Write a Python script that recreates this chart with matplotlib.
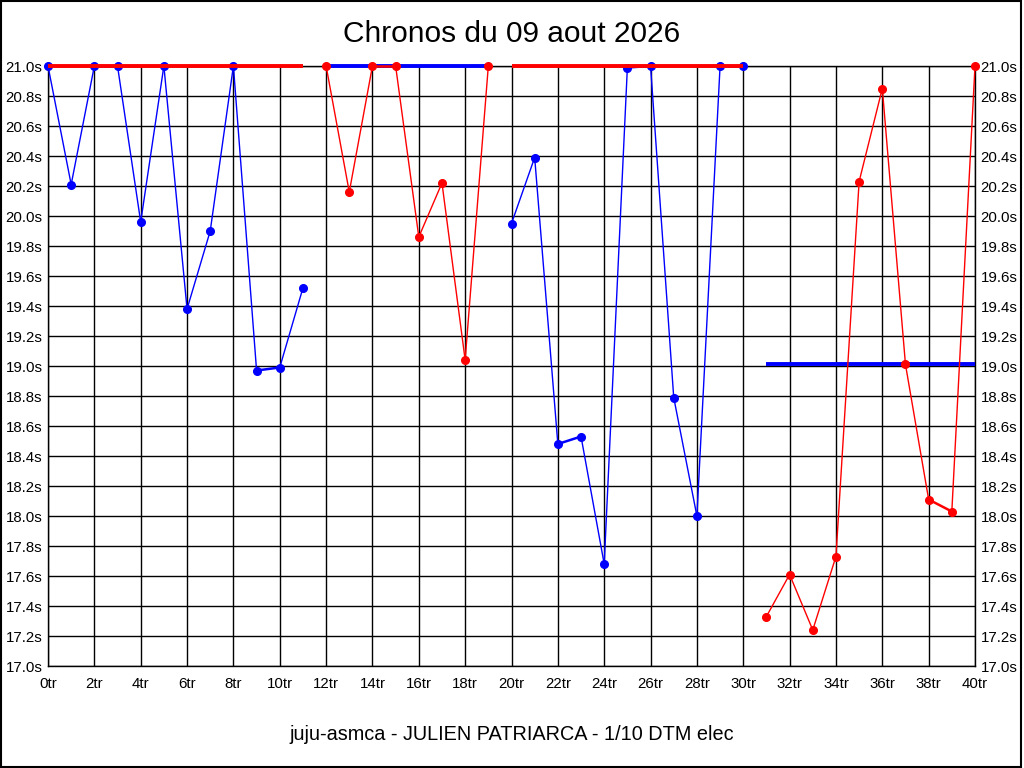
import matplotlib
matplotlib.use("Agg")
import matplotlib.pyplot as plt
import numpy as np

plt.rcParams['font.family'] = ['Liberation Sans', 'DejaVu Sans']

title = "Chronos du 09 aout 2026"
footer = "juju-asmca - JULIEN PATRIARCA - 1/10 DTM elec"

# chronos (s), clipped at 21.0 like the original
blue_laps_a = list(range(0, 12))
blue_a = [21.0, 20.21, 21.0, 21.0, 19.96, 21.0, 19.38, 19.90, 21.0, 18.97, 18.99, 19.52]
red_laps_a = list(range(12, 20))
red_a = [21.0, 20.16, 21.0, 21.0, 19.86, 20.22, 19.04, 21.0]
blue_laps_b = list(range(20, 31))
blue_b = [19.95, 20.39, 18.48, 18.53, 17.68, 20.99, 21.0, 18.79, 18.00, 21.0, 21.0]
red_laps_b = list(range(31, 41))
red_b = [17.33, 17.61, 17.24, 17.73, 20.23, 20.85, 19.01, 18.11, 18.03, 21.0]

# flat segments (other pilot off the scale / reference)
red_flat = [([0, 11], [21.0, 21.0]), ([20, 30], [21.0, 21.0])]
blue_flat = [([12, 19], [21.0, 21.0]), ([31, 40], [19.01, 19.01])]

xticks = list(range(0, 41, 2))
xlabels = [str(t) + "tr" for t in xticks]
yticks = np.round(np.arange(17.0, 21.01, 0.2), 1)
ylabels = ["%.1fs" % v for v in yticks]

fig = plt.figure(figsize=(10.24, 7.68), dpi=100)
ax = fig.add_axes([48/1024, 102/768, 927/1024, 600/768])
ax.set_xlim(0, 40)
ax.set_ylim(17.0, 21.0)


def draw_series(xs, ys, color, z):
    # the original renderer draws flat segments thicker than steep ones
    for i in range(len(xs) - 1):
        p0 = ax.transData.transform((xs[i], ys[i]))
        p1 = ax.transData.transform((xs[i + 1], ys[i + 1]))
        dx, dy = abs(p1[0] - p0[0]), abs(p1[1] - p0[1])
        lw = 1.8 if dy < dx else 1.0
        ax.plot(xs[i:i + 2], ys[i:i + 2], color=color, lw=lw, zorder=z, clip_on=False)
    ax.plot(xs, ys, ls="none", color=color, marker="o", ms=5.5, zorder=z, clip_on=False)


for xs, ys in [(blue_laps_a, blue_a), (blue_laps_b, blue_b)]:
    draw_series(xs, ys, "#0000ff", 3)
for xs, ys in blue_flat:
    ax.plot(xs, ys, color="#0000ff", lw=2.8, solid_capstyle="butt", zorder=3, clip_on=False)
for xs, ys in [(red_laps_a, red_a), (red_laps_b, red_b)]:
    draw_series(xs, ys, "#ff0000", 4)
for xs, ys in red_flat:
    ax.plot(xs, ys, color="#ff0000", lw=2.8, solid_capstyle="butt", zorder=4, clip_on=False)

ax.set_xticks(xticks)
ax.set_xticklabels(xlabels)
ax.set_yticks(yticks)
ax.set_yticklabels(ylabels)
ax.grid(True, color="black", lw=1.0, zorder=1)
ax.tick_params(length=0, labelsize=10.8, pad=4, labelright=True)
ax.tick_params(axis="x", pad=8)
for s in ax.spines.values():
    s.set_linewidth(1.0)
ax.set_axisbelow(True)

fig.text(0.5, 1 - 34/768, title, ha="center", va="center", fontsize=21.5)
fig.text(0.5, 1 - 735/768, footer, ha="center", va="center", fontsize=14.3)
fig.patches.append(plt.Rectangle((0.0005, 0.001), 0.997, 0.998, transform=fig.transFigure,
                                 fill=False, edgecolor="black", lw=1.5))

fig.savefig("out.png", dpi=100)
